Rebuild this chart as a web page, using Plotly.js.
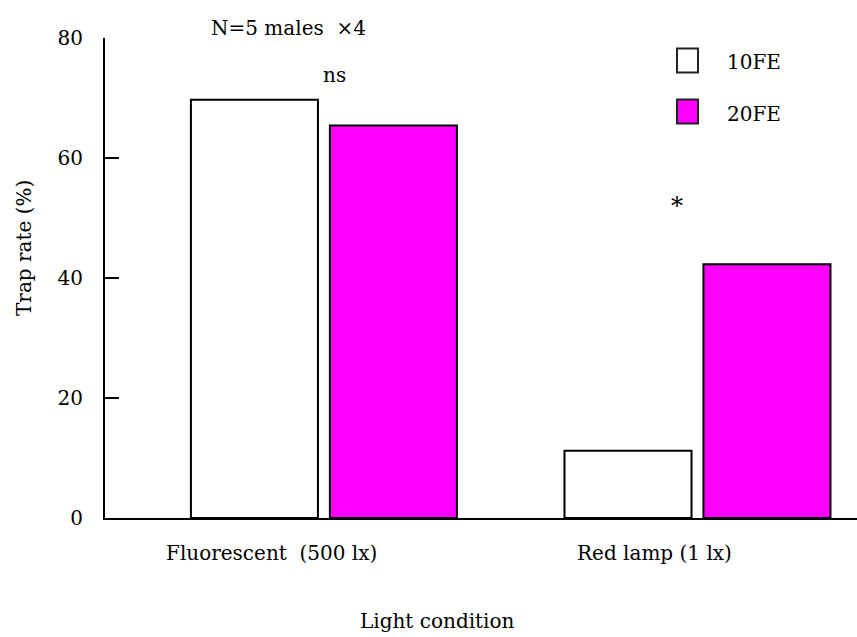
<!DOCTYPE html>
<html>
<head>
<meta charset="utf-8">
<script src="https://cdn.plot.ly/plotly-3.0.1.min.js"></script>
<style>
  html, body { margin: 0; padding: 0; background: #fff; }
  #chart { width: 857px; height: 637px; }
</style>
</head>
<body>
<div id="chart"></div>
<script>
// Trap rate by light condition, two lure loads
const conditions = ['Fluorescent  (500 lx)', 'Red lamp (1 lx)'];
const trap10FE = [69.7, 11.2];
const trap20FE = [65.4, 42.3];
const seriesNames = ['10FE', '20FE'];
const yTickVals = [0, 20, 40, 60, 80];
const sigLabels = ['ns', '*'];
const sigHeights = [73.8, 52];
const sampleNote = 'N=5 males  \u00d74';
const xTitle = 'Light condition';
const yTitle = 'Trap rate (%)';

// Styling
const FONT = 'DejaVu Serif, Liberation Serif, serif';
const W = 857, H = 637;
const M = { l: 105, r: 0, t: 38, b: 119 };
const fills = ['#ffffff', '#ff00ff'];
const catLabelShift = [-52, -43];
const sigShift = [11, -20];

// pixel -> paper helpers (for legend swatches and free text)
const pw = W - M.l - M.r, ph = H - M.t - M.b;
const px = x => (x - M.l) / pw;
const py = y => (H - M.b - y) / ph;
const txt = (size) => ({ family: FONT, size: size, color: '#000' });

const traces = [trap10FE, trap20FE].map((vals, i) => ({
  type: 'bar',
  name: seriesNames[i],
  x: conditions,
  y: vals,
  marker: { color: fills[i], line: { color: '#000', width: 2 } },
  showlegend: false,
  hoverinfo: 'skip'
}));

const annotations = [];
conditions.forEach((c, i) => {
  annotations.push({
    xref: 'x', yref: 'paper', x: i, y: 0, yanchor: 'top', xanchor: 'center',
    xshift: catLabelShift[i], yshift: -21, text: c, showarrow: false,
    font: txt(20)
  });
  annotations.push({
    xref: 'x', yref: 'y', x: i, y: sigHeights[i], xshift: sigShift[i],
    xanchor: 'center', yanchor: 'middle',
    text: sigLabels[i], showarrow: false, font: txt(sigLabels[i] === '*' ? 24 : 20)
  });
});
annotations.push({
  xref: 'paper', yref: 'paper', x: px(288), y: py(28),
  xanchor: 'center', yanchor: 'middle',
  text: sampleNote, showarrow: false, font: txt(20)
});
annotations.push({
  xref: 'paper', yref: 'paper', x: px(437), y: py(621),
  xanchor: 'center', yanchor: 'middle',
  text: xTitle, showarrow: false, font: txt(20)
});
annotations.push({
  xref: 'paper', yref: 'paper', x: px(24), y: py(248),
  xanchor: 'center', yanchor: 'middle', textangle: -90,
  text: yTitle, showarrow: false, font: txt(20)
});

// Legend: swatches and names
const shapes = [];
const legendRows = [60.5, 111.5];
seriesNames.forEach((n, i) => {
  const cy = legendRows[i];
  shapes.push({
    type: 'rect', xref: 'paper', yref: 'paper',
    x0: px(677), x1: px(698), y0: py(cy - 12), y1: py(cy + 12),
    fillcolor: fills[i], line: { color: '#222', width: 2 }
  });
  annotations.push({
    xref: 'paper', yref: 'paper', x: px(725), y: py(cy + 2),
    xanchor: 'left', yanchor: 'middle',
    text: n, showarrow: false, font: txt(20)
  });
});

const layout = {
  width: W, height: H,
  margin: M,
  paper_bgcolor: '#fff', plot_bgcolor: '#fff',
  barmode: 'group',
  bargap: 0.256,
  bargroupgap: 0.086,
  showlegend: false,
  font: txt(20),
  xaxis: {
    type: 'category',
    range: [-0.586, 1.427],
    showline: true, linecolor: '#000', linewidth: 2,
    showgrid: false, zeroline: false,
    ticks: '', showticklabels: false
  },
  yaxis: {
    range: [0, 80],
    tickvals: yTickVals,
    showline: true, linecolor: '#000', linewidth: 2,
    showgrid: false, zeroline: false,
    ticks: 'inside', ticklen: 14, tickwidth: 2, tickcolor: '#000',
    ticklabelstandoff: 16,
    tickfont: txt(20)
  },
  annotations: annotations,
  shapes: shapes
};

Plotly.newPlot('chart', traces, layout, { displayModeBar: false, staticPlot: true });
</script>
</body>
</html>
